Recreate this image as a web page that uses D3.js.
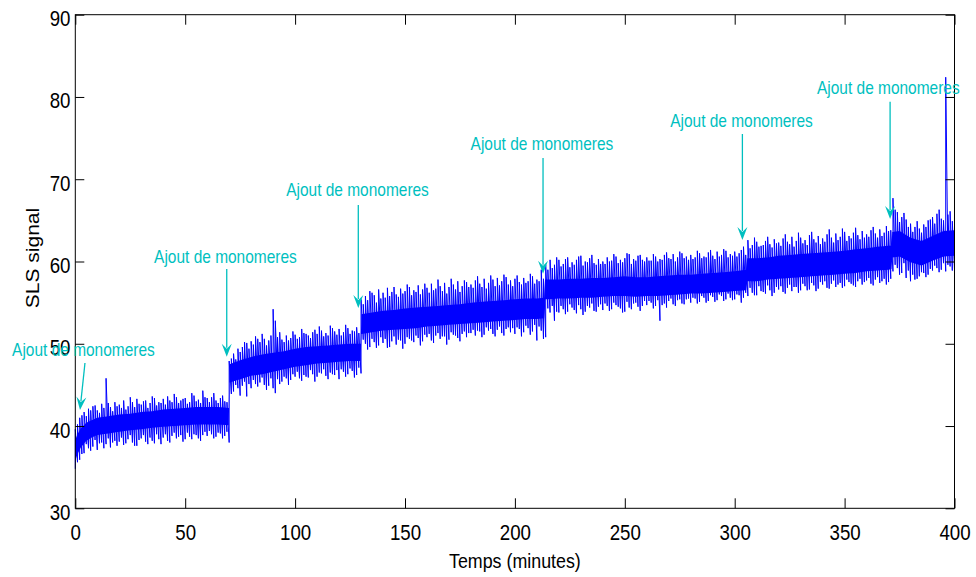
<!DOCTYPE html>
<html>
<head>
<meta charset="utf-8">
<script src="https://cdn.jsdelivr.net/npm/d3@7"></script>
<style>
  body { margin: 0; background: #fff; }
  svg { display: block; font-family: "Liberation Sans", Arial, sans-serif; }
</style>
</head>
<body>
<div id="chart"></div>
<script>
// ---- data ----
const X_TICKS = [0, 50, 100, 150, 200, 250, 300, 350, 400];
const Y_TICKS = [30, 40, 50, 60, 70, 80, 90];

// envelope of the noisy trace at even minutes
const EVEN_TIME = [
  0, 2, 4, 6, 8, 10, 12, 14, 16, 18,
  20, 22, 24, 26, 28, 30, 32, 34, 36, 38,
  40, 42, 44, 46, 48, 50, 52, 54, 56, 58,
  60, 62, 64, 66, 68, 70, 72, 74, 76, 78,
  80, 82, 84, 86, 88, 90, 92, 94, 96, 98,
  100, 102, 104, 106, 108, 110, 112, 114, 116, 118,
  120, 122, 124, 126, 128, 130, 132, 134, 136, 138,
  140, 142, 144, 146, 148, 150, 152, 154, 156, 158,
  160, 162, 164, 166, 168, 170, 172, 174, 176, 178,
  180, 182, 184, 186, 188, 190, 192, 194, 196, 198,
  200, 202, 204, 206, 208, 210, 212, 214, 216, 218,
  220, 222, 224, 226, 228, 230, 232, 234, 236, 238,
  240, 242, 244, 246, 248, 250, 252, 254, 256, 258,
  260, 262, 264, 266, 268, 270, 272, 274, 276, 278,
  280, 282, 284, 286, 288, 290, 292, 294, 296, 298,
  300, 302, 304, 306, 308, 310, 312, 314, 316, 318,
  320, 322, 324, 326, 328, 330, 332, 334, 336, 338,
  340, 342, 344, 346, 348, 350, 352, 354, 356, 358,
  360, 362, 364, 366, 368, 370, 372, 374, 376, 378,
  380, 382, 384, 386, 388, 390, 392, 394, 396, 398,
  400
];
const EVEN_HIGH = [
  39.6, 41.0, 41.7, 42.1, 42.4, 41.9, 42.7, 45.8, 42.3, 42.9,
  42.6, 43.1, 42.4, 42.9, 43.3, 42.6, 43.1, 42.8, 43.4, 42.9,
  43.3, 43.6, 42.9, 43.5, 43.1, 43.4, 42.9, 43.7, 43.2, 44.3,
  43.4, 43.5, 43.1, 43.4, 43.0, 47.9, 48.8, 49.4, 49.6, 50.1,
  50.3, 50.9, 50.2, 50.6, 50.4, 54.2, 50.8, 50.5, 51.0, 50.7,
  51.1, 50.8, 51.3, 51.0, 51.4, 51.2, 51.6, 51.3, 52.2, 51.5,
  51.8, 51.4, 51.9, 51.6, 52.0, 55.4, 55.8, 56.4, 55.9, 56.6,
  56.2, 56.8, 56.3, 56.0, 56.7, 56.4, 56.9, 56.5, 57.1, 56.6,
  56.8, 57.3, 56.7, 57.0, 57.4, 56.9, 57.2, 57.6, 57.0, 57.5,
  57.2, 57.7, 57.3, 57.9, 57.4, 57.8, 58.0, 57.6, 58.1, 57.7,
  57.9, 57.5, 58.0, 57.6, 58.2, 57.8, 59.0, 59.6, 60.2, 59.6,
  60.2, 59.7, 60.5, 59.9, 60.2, 60.7, 60.0, 60.4, 59.8, 60.3,
  60.0, 60.5, 60.1, 60.6, 60.2, 60.4, 60.9, 60.3, 60.7, 60.2,
  60.5, 60.1, 60.6, 60.3, 60.8, 60.4, 60.9, 60.5, 61.0, 60.6,
  60.8, 60.5, 61.0, 60.6, 61.1, 60.7, 61.2, 60.8, 61.3, 60.9,
  61.2, 61.0, 61.8, 62.6, 62.0, 62.4, 61.9, 62.5, 62.1, 62.7,
  62.3, 62.8, 62.4, 63.0, 62.5, 62.9, 62.6, 63.2, 62.7, 63.1,
  62.8, 63.3, 62.9, 63.4, 63.0, 63.6, 63.1, 63.5, 63.2, 63.7,
  63.3, 63.8, 63.4, 63.9, 63.5, 63.7, 67.7, 66.0, 65.4, 65.1,
  64.6, 64.2, 64.0, 64.5, 65.0, 65.4, 65.8, 65.2, 82.4, 66.1,
  65.5
];
const EVEN_LOW = [
  34.8, 35.9, 36.7, 37.3, 37.5, 37.1, 38.0, 37.8, 37.4, 38.2,
  38.1, 37.7, 38.4, 38.0, 37.6, 38.5, 38.1, 38.6, 37.9, 38.4,
  38.6, 38.2, 38.8, 38.5, 38.9, 38.4, 38.7, 39.0, 38.5, 38.9,
  38.8, 39.0, 38.7, 39.1, 38.8, 38.0, 44.2, 44.6, 44.9, 43.6,
  44.6, 45.1, 45.3, 45.0, 44.9, 44.6, 45.7, 45.4, 45.8, 45.6,
  46.0, 45.8, 46.2, 45.9, 46.3, 46.0, 46.4, 46.1, 46.5, 46.2,
  45.7, 46.6, 46.3, 46.7, 46.2, 46.4, 50.0, 49.6, 50.2, 49.8,
  50.1, 49.5, 50.3, 49.9, 50.4, 50.0, 50.6, 50.2, 50.7, 50.3,
  50.8, 50.4, 51.0, 50.6, 50.9, 50.5, 51.1, 50.7, 51.2, 50.8,
  51.3, 51.0, 51.5, 51.1, 51.6, 51.2, 51.7, 51.3, 51.8, 51.4,
  51.2, 51.8, 51.4, 51.9, 51.5, 50.4, 51.6, 50.8, 53.8, 52.8,
  53.8, 54.2, 53.9, 54.4, 53.7, 54.2, 53.9, 54.4, 54.0, 54.5,
  54.1, 54.6, 54.2, 54.7, 54.3, 53.9, 54.4, 54.9, 54.5, 54.6,
  54.7, 55.0, 54.6, 52.8, 54.9, 55.2, 54.8, 55.3, 54.9, 55.4,
  55.0, 55.5, 55.1, 55.6, 55.2, 55.7, 55.3, 55.8, 55.4, 55.6,
  55.4, 55.9, 55.6, 55.8, 56.2, 55.9, 56.4, 56.1, 56.5, 56.2,
  56.6, 56.3, 56.8, 56.4, 56.9, 56.5, 57.0, 56.6, 57.1, 56.7,
  57.2, 56.8, 57.3, 56.9, 57.4, 57.0, 57.5, 57.1, 57.6, 57.2,
  57.7, 57.3, 57.8, 57.4, 57.9, 57.5, 58.8, 59.2, 58.6, 58.0,
  57.6, 57.8, 58.2, 58.6, 58.4, 58.9, 59.2, 59.0, 58.8, 59.4,
  59.0
];

// envelope of the noisy trace at odd minutes
const ODD_TIME = [
  1, 3, 5, 7, 9, 11, 13, 15, 17, 19,
  21, 23, 25, 27, 29, 31, 33, 35, 37, 39,
  41, 43, 45, 47, 49, 51, 53, 55, 57, 59,
  61, 63, 65, 67, 69, 71, 73, 75, 77, 79,
  81, 83, 85, 87, 89, 91, 93, 95, 97, 99,
  101, 103, 105, 107, 109, 111, 113, 115, 117, 119,
  121, 123, 125, 127, 129, 131, 133, 135, 137, 139,
  141, 143, 145, 147, 149, 151, 153, 155, 157, 159,
  161, 163, 165, 167, 169, 171, 173, 175, 177, 179,
  181, 183, 185, 187, 189, 191, 193, 195, 197, 199,
  201, 203, 205, 207, 209, 211, 213, 215, 217, 219,
  221, 223, 225, 227, 229, 231, 233, 235, 237, 239,
  241, 243, 245, 247, 249, 251, 253, 255, 257, 259,
  261, 263, 265, 267, 269, 271, 273, 275, 277, 279,
  281, 283, 285, 287, 289, 291, 293, 295, 297, 299,
  301, 303, 305, 307, 309, 311, 313, 315, 317, 319,
  321, 323, 325, 327, 329, 331, 333, 335, 337, 339,
  341, 343, 345, 347, 349, 351, 353, 355, 357, 359,
  361, 363, 365, 367, 369, 371, 373, 375, 377, 379,
  381, 383, 385, 387, 389, 391, 393, 395, 397, 399
];
const ODD_HIGH = [
  40.2, 41.3, 41.2, 41.9, 42.5, 41.6, 42.2, 42.8, 41.8, 42.4,
  42.2, 42.0, 43.5, 42.3, 42.7, 43.0, 42.2, 43.6, 42.5, 42.8,
  42.6, 43.1, 43.9, 42.8, 43.3, 42.7, 44.0, 43.0, 42.8, 43.5,
  42.9, 44.0, 42.8, 43.7, 42.9, 48.2, 48.1, 49.0, 50.2, 49.4,
  49.9, 50.6, 51.2, 49.8, 51.0, 52.8, 51.4, 50.2, 50.4, 51.5,
  50.6, 51.8, 51.2, 50.7, 51.7, 52.1, 50.9, 51.0, 51.9, 51.1,
  51.0, 52.3, 51.2, 51.5, 51.3, 54.8, 55.3, 56.2, 55.0, 55.5,
  55.6, 55.8, 56.9, 55.7, 56.1, 57.2, 55.9, 56.3, 56.0, 57.3,
  56.2, 56.5, 57.8, 56.4, 56.1, 57.9, 56.6, 56.3, 57.7, 56.9,
  56.8, 58.2, 56.9, 56.7, 58.3, 57.0, 57.1, 58.4, 57.2, 57.0,
  58.3, 57.2, 57.4, 58.5, 57.3, 57.6, 57.9, 59.0, 59.2, 60.5,
  59.4, 60.3, 59.3, 59.6, 60.6, 59.5, 59.9, 60.8, 59.6, 59.7,
  59.7, 60.0, 60.9, 59.8, 59.9, 61.0, 59.7, 60.1, 60.8, 60.0,
  60.1, 60.9, 60.0, 60.2, 61.1, 60.3, 60.0, 61.2, 60.4, 60.2,
  60.3, 61.3, 60.4, 60.5, 61.4, 60.3, 60.6, 61.5, 60.5, 60.7,
  60.6, 61.4, 60.8, 61.6, 62.9, 61.8, 62.0, 63.0, 61.7, 62.2,
  61.9, 63.3, 62.1, 61.8, 63.5, 62.2, 62.0, 63.6, 62.3, 62.1,
  62.4, 63.9, 62.3, 62.6, 64.0, 62.5, 62.8, 64.1, 62.7, 62.9,
  63.0, 64.2, 62.9, 63.1, 64.3, 63.8, 66.3, 64.8, 65.9, 64.2,
  63.6, 64.9, 63.5, 64.2, 65.1, 64.6, 66.3, 65.0, 65.7, 64.9
];
const ODD_LOW = [
  35.6, 36.6, 37.8, 37.0, 38.3, 37.9, 37.3, 38.5, 38.0, 37.6,
  38.6, 37.9, 38.9, 37.6, 38.3, 38.9, 37.8, 38.2, 39.0, 37.8,
  39.0, 38.0, 39.2, 38.7, 38.1, 39.2, 38.4, 38.9, 38.2, 39.3,
  39.4, 38.5, 39.2, 38.5, 39.3, 43.9, 45.0, 43.7, 45.4, 45.1,
  45.6, 44.8, 45.9, 44.4, 45.8, 44.0, 45.1, 46.0, 45.0, 46.3,
  46.6, 45.5, 46.0, 46.8, 45.4, 46.5, 46.9, 45.7, 46.3, 46.8,
  46.9, 46.0, 47.0, 45.9, 47.1, 50.5, 49.3, 50.6, 49.5, 50.8,
  50.6, 49.6, 50.9, 50.5, 49.4, 50.8, 50.4, 51.0, 49.8, 51.1,
  51.2, 50.1, 51.3, 50.9, 49.9, 51.4, 51.0, 50.3, 51.5, 51.3,
  51.7, 51.6, 50.8, 52.0, 51.8, 50.9, 52.1, 51.0, 52.0, 51.9,
  52.0, 50.9, 52.2, 51.1, 52.3, 52.1, 50.6, 54.3, 54.6, 53.9,
  54.6, 53.6, 54.8, 54.1, 54.7, 53.5, 54.6, 54.9, 53.9, 54.8,
  54.9, 54.0, 55.0, 54.5, 53.8, 55.1, 54.2, 55.0, 54.0, 55.2,
  55.2, 54.3, 55.3, 54.7, 54.4, 55.5, 54.6, 55.4, 54.8, 55.5,
  55.6, 54.9, 55.8, 55.0, 55.9, 55.1, 56.0, 55.2, 56.1, 55.3,
  56.0, 55.0, 56.2, 56.8, 55.9, 57.0, 56.3, 57.1, 55.8, 56.9,
  57.0, 56.1, 57.2, 56.9, 56.2, 57.3, 56.5, 57.4, 56.4, 57.5,
  57.6, 56.7, 57.7, 57.2, 56.8, 57.8, 57.3, 56.9, 57.9, 57.5,
  58.0, 57.1, 58.1, 57.6, 57.2, 57.9, 59.6, 58.4, 59.8, 58.9,
  58.4, 57.9, 58.7, 58.1, 59.1, 59.5, 58.7, 59.8, 59.6, 58.9
];

// dense core of the trace (steps at each monomer addition)
const CORE_TIME = [
  0, 1, 2.5, 5, 7.5, 10, 15, 20, 25, 30, 35, 40, 45, 50, 55, 60, 65, 69.8,
  70.2, 75, 80, 85, 90, 95, 100, 105, 110, 115, 120, 125, 129.8,
  130.2, 135, 140, 145, 150, 155, 160, 165, 170, 175, 180, 185, 190, 195, 200, 205, 210, 213.3,
  213.7, 215, 220, 225, 230, 235, 240, 245, 250, 255, 260, 265, 270, 275, 280, 285, 290, 295, 300, 305.3,
  305.7, 310, 315, 320, 325, 330, 335, 340, 345, 350, 355, 360, 365, 370, 371.3,
  371.7, 375, 380, 385, 390, 395, 400
];
const CORE_LOW = [
  35.8, 36.6, 37.4, 38.2, 38.6, 38.9, 39.1, 39.3, 39.5, 39.6, 39.8, 39.9, 40.0, 40.1, 40.2, 40.2, 40.2, 40.1,
  45.3, 45.7, 46.1, 46.3, 46.6, 46.9, 47.2, 47.4, 47.6, 47.7, 47.8, 47.9, 47.9,
  51.2, 51.4, 51.6, 51.7, 51.8, 51.9, 52.1, 52.2, 52.3, 52.4, 52.5, 52.6, 52.7, 52.8, 52.9, 53.0, 53.0, 53.1,
  55.4, 55.4, 55.5, 55.5, 55.6, 55.6, 55.7, 55.8, 55.8, 55.7, 55.8, 55.8, 55.9, 56.0, 56.1, 56.1, 56.2, 56.3, 56.4, 56.5,
  57.6, 57.6, 57.8, 57.9, 58.0, 58.1, 58.2, 58.3, 58.4, 58.5, 58.6, 58.8, 58.9, 59.0, 59.1,
  60.5, 60.6, 59.9, 59.5, 60.1, 60.6, 60.7
];
const CORE_HIGH = [
  38.3, 39.0, 39.7, 40.4, 40.7, 41.0, 41.2, 41.4, 41.5, 41.7, 41.8, 42.0, 42.1, 42.2, 42.3, 42.3, 42.3, 42.2,
  47.5, 48.0, 48.4, 48.7, 48.9, 49.1, 49.4, 49.6, 49.7, 49.8, 49.9, 50.0, 50.0,
  53.6, 53.8, 54.0, 54.1, 54.3, 54.4, 54.5, 54.6, 54.7, 54.8, 55.0, 55.1, 55.2, 55.3, 55.4, 55.5, 55.5, 55.6,
  57.8, 57.8, 57.8, 57.9, 57.9, 58.0, 58.0, 58.1, 58.2, 58.1, 58.1, 58.2, 58.3, 58.4, 58.4, 58.5, 58.6, 58.7, 58.8, 59.0,
  60.4, 60.4, 60.5, 60.7, 60.8, 60.9, 61.0, 61.1, 61.2, 61.3, 61.5, 61.6, 61.8, 61.9, 61.9,
  63.6, 63.7, 62.9, 62.5, 63.1, 63.7, 63.8
];

// annotations "Ajout de monomeres"
const NOTE_LABEL = "Ajout de monomeres";
const NOTE_TEXT_TIME = [3.7, 68.3, 128.4, 212.3, 303.1, 369.9];
const NOTE_TEXT_VALUE = [48.5, 59.76, 68.02, 73.61, 76.41, 80.33];
const NOTE_TAIL_TIME = [4.4, 68.9, 128.75, 212.8, 303.5, 370.7];
const NOTE_TAIL_VALUE = [47.66, 59.09, 66.87, 72.58, 75.5, 79.42];
const NOTE_TIP_TIME = [2.14, 68.9, 128.75, 212.8, 303.5, 370.7];
const NOTE_TIP_VALUE = [41.95, 48.43, 54.35, 58.51, 62.6, 65.18];

// ---- layout ----
const MARGIN = { TOP: 14.7, RIGHT: 21.5, BOTTOM: 68.7, LEFT: 75.3 };
const WIDTH = 976 - MARGIN.LEFT - MARGIN.RIGHT;
const HEIGHT = 577 - MARGIN.TOP - MARGIN.BOTTOM;
const SQUEEZE = 0.85; // the original figure is slightly narrowed horizontally
const NOTE_COLOR = "#00bfbf";
const TRACE_COLOR = "#0000ff";

const SVG = d3.select("#chart").append("svg")
  .attr("width", 976)
  .attr("height", 577);

const CHART = SVG.append("g")
  .attr("transform", "translate(" + MARGIN.LEFT + "," + MARGIN.TOP + ")");

const X = d3.scaleLinear().domain([0, 400]).range([0, WIDTH]);
const Y = d3.scaleLinear().domain([30, 90]).range([HEIGHT, 0]);

// ---- trace ----
const samples = EVEN_TIME.map((t, i) => ({ t: t, lo: EVEN_LOW[i], hi: EVEN_HIGH[i] }))
  .concat(ODD_TIME.map((t, i) => ({ t: t, lo: ODD_LOW[i], hi: ODD_HIGH[i] })))
  .sort((a, b) => a.t - b.t);
const core = CORE_TIME.map((t, i) => ({ t: t, lo: CORE_LOW[i], hi: CORE_HIGH[i] }));

// the plotted signal runs from each sample's low to its high, then on to the next sample
const tracePoints = [];
samples.forEach((d) => {
  tracePoints.push([d.t, d.lo]);
  tracePoints.push([d.t, d.hi]);
});

CHART.append("path")
  .datum(core)
  .attr("fill", TRACE_COLOR)
  .attr("d", d3.area()
    .x((d) => X(d.t))
    .y0((d) => Y(d.lo))
    .y1((d) => Y(d.hi)));

CHART.append("path")
  .datum(tracePoints)
  .attr("fill", "none")
  .attr("stroke", TRACE_COLOR)
  .attr("stroke-width", 1)
  .attr("stroke-linejoin", "miter")
  .attr("d", d3.line()
    .x((d) => X(d[0]))
    .y((d) => Y(d[1])));

// ---- axes (ticks pointing inwards, box on) ----
const styleAxis = (g) => {
  g.select(".domain").remove();
  g.selectAll(".tick line").attr("stroke", "#000");
};

CHART.append("g")
  .attr("transform", "translate(0," + HEIGHT + ")")
  .call(d3.axisBottom(X).tickValues(X_TICKS).tickSizeInner(-10).tickSizeOuter(0))
  .call(styleAxis)
  .call((g) => g.selectAll(".tick text")
    .attr("y", 32)
    .attr("dy", null)
    .attr("transform", "scale(" + SQUEEZE + ",1)")
    .attr("fill", "#000")
    .style("font-size", "22px")
    .style("font-family", "'Liberation Sans', Arial, sans-serif"));

CHART.append("g")
  .call(d3.axisTop(X).tickValues(X_TICKS).tickSizeInner(-10).tickSizeOuter(0).tickFormat(""))
  .call(styleAxis);

CHART.append("g")
  .call(d3.axisLeft(Y).tickValues(Y_TICKS).tickSizeInner(-9).tickSizeOuter(0))
  .call(styleAxis)
  .call((g) => g.selectAll(".tick text")
    .attr("x", -4.8 / SQUEEZE)
    .attr("y", 11)
    .attr("dy", null)
    .attr("transform", "scale(" + SQUEEZE + ",1)")
    .attr("fill", "#000")
    .style("font-size", "22px")
    .style("font-family", "'Liberation Sans', Arial, sans-serif"));

CHART.append("g")
  .attr("transform", "translate(" + WIDTH + ",0)")
  .call(d3.axisRight(Y).tickValues(Y_TICKS).tickSizeInner(-9).tickSizeOuter(0).tickFormat(""))
  .call(styleAxis);

CHART.append("rect")
  .attr("width", WIDTH)
  .attr("height", HEIGHT)
  .attr("fill", "none")
  .attr("stroke", "#000")
  .attr("stroke-width", 1);

// axis titles
SVG.append("g")
  .attr("transform", "translate(" + (MARGIN.LEFT + WIDTH / 2) + ",568) scale(" + SQUEEZE + ",1)")
  .append("text")
  .attr("text-anchor", "middle")
  .style("font-size", "21px")
  .text("Temps (minutes)");

SVG.append("g")
  .attr("transform", "translate(38.5,258) scale(" + SQUEEZE + ",1) rotate(-90)")
  .append("text")
  .attr("text-anchor", "middle")
  .style("font-size", "21px")
  .text("SLS signal");

// ---- annotations ----
const notes = NOTE_TEXT_TIME.map((t, i) => ({
  tx: X(t), ty: Y(NOTE_TEXT_VALUE[i]),
  x1: X(NOTE_TAIL_TIME[i]), y1: Y(NOTE_TAIL_VALUE[i]),
  x2: X(NOTE_TIP_TIME[i]), y2: Y(NOTE_TIP_VALUE[i])
}));

const NOTE = CHART.selectAll(".note")
  .data(notes)
  .enter()
  .append("g")
  .attr("class", "note");

NOTE.append("g")
  .attr("transform", (d) => "translate(" + d.tx + "," + d.ty + ") scale(0.86,1)")
  .append("text")
  .attr("text-anchor", "middle")
  .attr("fill", NOTE_COLOR)
  .style("font-size", "18px")
  .text(NOTE_LABEL);

NOTE.append("line")
  .attr("x1", (d) => d.x1)
  .attr("y1", (d) => d.y1)
  .attr("x2", (d) => d.x2 - 9 * Math.cos(Math.atan2(d.y2 - d.y1, d.x2 - d.x1)))
  .attr("y2", (d) => d.y2 - 9 * Math.sin(Math.atan2(d.y2 - d.y1, d.x2 - d.x1)))
  .attr("stroke", NOTE_COLOR)
  .attr("stroke-width", 1.3);

NOTE.append("path")
  .attr("d", "M0,0 L-13,-5 L-8,0 L-13,5 Z")
  .attr("fill", NOTE_COLOR)
  .attr("transform", (d) => {
    const angle = Math.atan2(d.y2 - d.y1, d.x2 - d.x1) * 180 / Math.PI;
    return "translate(" + d.x2 + "," + d.y2 + ") rotate(" + angle + ")";
  });
</script>
</body>
</html>
